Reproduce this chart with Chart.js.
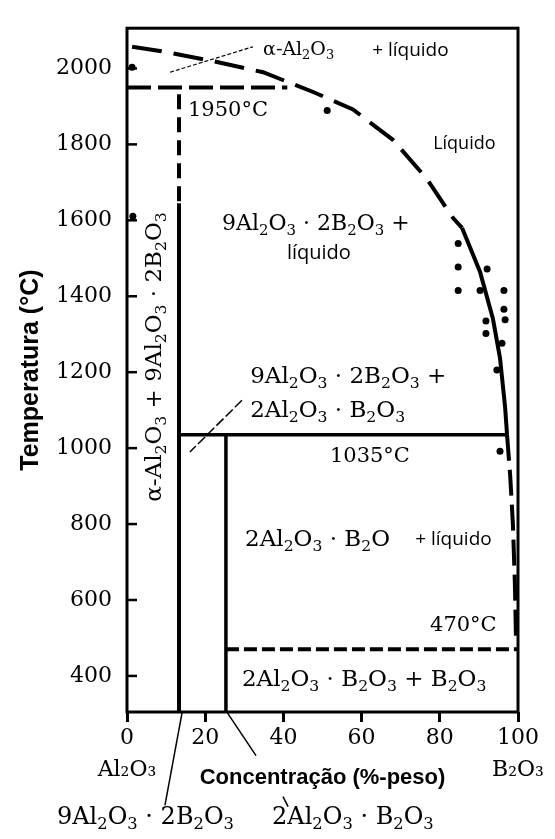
<!DOCTYPE html>
<html lang="pt">
<head>
  <meta charset="UTF-8" />
  <title>Diagrama de fases Al2O3 - B2O3</title>
  <script src="https://cdn.jsdelivr.net/npm/chart.js"></script>
  <style>
    html, body { margin: 0; padding: 0; background: #fff; }
    #caixa { width: 555px; height: 839px; }
  </style>
</head>
<body>
  <div id="caixa"><canvas id="diagrama"></canvas></div>

  <script>
    // eixos: concentração de B2O3 (%-peso) e temperatura (°C)
    const ticksX = [0, 20, 40, 60, 80, 100];
    const ticksY = [400, 600, 800, 1000, 1200, 1400, 1600, 1800, 2000];
    const rotulosExtremos = { 0: 'Al₂O₃', 100: 'B₂O₃' };

    // liquidus (parte tracejada de cima, parte cheia, parte tracejada de baixo)
    const liquidusSup = [[1.3, 2057], [8.4, 2046], [21.2, 2021], [34.8, 1990], [47.6, 1938],
                         [57.8, 1892], [68.0, 1812], [76.7, 1709], [83.4, 1606], [85.7, 1580]];
    const liquidusMeio = [[85.7, 1580], [90.3, 1464], [93.6, 1340], [95.4, 1237], [96.7, 1108], [97.2, 1035]];
    const liquidusInf = [[97.2, 1035], [98.0, 928], [98.7, 799], [99.2, 644], [99.5, 490]];

    // linhas do diagrama
    const isoterma1950 = [[0, 1950], [41, 1950]];
    const isoterma1035 = [[13.3, 1035], [97.2, 1035]];
    const isoterma470 = [[25.3, 470], [100, 470]];
    const composto9a2b = [[13.3, 1645], [13.3, 305]];
    const composto9a2bTrac = [[13.3, 1932], [13.3, 1650]];
    const composto2a1b = [[25.3, 1035], [25.3, 305]];
    const linhaFina = [[11.0, 1990], [32.2, 2057]];
    const indicador1035 = [[29.4, 1126], [16.1, 990]];
    const indicador9a2b = [[14.1, 304], [9.7, 59]];
    const indicador2a1b = [[25.6, 304], [33.0, 190]];
    const indicador2a1bPonta = [[39.9, 82], [41.2, 56]];

    // pontos experimentais
    const pontos = [[51.2, 1889], [84.7, 1539], [84.7, 1477], [84.7, 1415], [92.1, 1472],
                    [90.3, 1415], [96.4, 1415], [96.4, 1366], [96.7, 1338], [91.8, 1335],
                    [91.8, 1302], [95.9, 1276], [94.6, 1206], [95.4, 992], [1.5, 1611], [1.3, 2003]];

    const serif = '"DejaVu Serif", serif';
    const sans = '"Open Sans", sans-serif';

    // textos dentro e fora do gráfico (posição em coordenadas dos dados)
    const textos = [
      { t: 'α-Al₂O₃', x: 34.8, y: 2049, f: serif, s: 19 },
      { t: '+ líquido', x: 62.7, y: 2046, f: sans, s: 19 },
      { t: '1950°C', x: 15.6, y: 1889, f: serif, s: 21 },
      { t: 'Líquido', x: 78.3, y: 1802, f: sans, s: 18 },
      { t: '9Al₂O₃ · 2B₂O₃ +', x: 24.3, y: 1590, f: serif, s: 22 },
      { t: 'líquido', x: 40.9, y: 1513, f: sans, s: 20 },
      { t: 'α-Al₂O₃ + 9Al₂O₃ · 2B₂O₃', x: 7.2, y: 1240, f: serif, s: 23, rot: true },
      { t: '9Al₂O₃ · 2B₂O₃ +', x: 31.5, y: 1186, f: serif, s: 23 },
      { t: '2Al₂O₃ · B₂O₃', x: 31.5, y: 1098, f: serif, s: 23 },
      { t: '1035°C', x: 51.9, y: 979, f: serif, s: 21 },
      { t: '2Al₂O₃ · B₂O', x: 30.2, y: 758, f: serif, s: 23 },
      { t: '+ líquido', x: 73.7, y: 758, f: sans, s: 19 },
      { t: '470°C', x: 77.5, y: 533, f: serif, s: 21 },
      { t: '2Al₂O₃ · B₂O₃ + B₂O₃', x: 29.4, y: 389, f: serif, s: 23 },
      { t: '9Al₂O₃ · 2B₂O₃', x: -17.9, y: 26, f: serif, s: 24 },
      { t: '2Al₂O₃ · B₂O₃', x: 37.1, y: 26, f: serif, s: 24 }
    ];

    const pts = arr => arr.map(p => ({ x: p[0], y: p[1] }));
    const indices = '₀₁₂₃₄₅₆₇₈₉';

    // desenha texto com índices menores e abaixados
    function escreve(ctx, texto, tam, familia, centrado) {
      const partes = [...texto].map(c => {
        const i = indices.indexOf(c);
        return i >= 0 ? { c: String(i), sub: true } : { c: c, sub: false };
      });
      let largura = 0;
      partes.forEach(p => {
        ctx.font = (p.sub ? tam * 0.68 : tam) + 'px ' + familia;
        p.w = ctx.measureText(p.c).width;
        largura += p.w;
      });
      let x = centrado ? -largura / 2 : 0;
      partes.forEach(p => {
        ctx.font = (p.sub ? tam * 0.68 : tam) + 'px ' + familia;
        ctx.fillText(p.c, x, p.sub ? tam * 0.3 : 0);
        x += p.w;
      });
    }

    function linha(dados, largura, traco) {
      return {
        data: pts(dados),
        showLine: true,
        borderColor: '#000',
        borderWidth: largura,
        borderDash: traco || [],
        pointRadius: 0,
        clip: false
      };
    }

    const moldura = {
      id: 'moldura',
      afterDatasetsDraw(chart) {
        const { ctx, chartArea: a, scales } = chart;
        ctx.save();
        ctx.strokeStyle = '#000';
        ctx.lineWidth = 3;
        ctx.strokeRect(a.left, a.top, a.right - a.left, a.bottom - a.top);
        ctx.lineWidth = 2.5;
        ticksY.forEach(v => {
          const py = scales.y.getPixelForValue(v);
          ctx.beginPath();
          ctx.moveTo(a.left, py);
          ctx.lineTo(a.left + 10, py);
          ctx.stroke();
        });
        ctx.fillStyle = '#000';
        ctx.textBaseline = 'middle';
        ctx.textAlign = 'left';
        textos.forEach(r => {
          const px = scales.x.getPixelForValue(r.x);
          const py = scales.y.getPixelForValue(r.y);
          ctx.save();
          ctx.translate(px, py);
          if (r.rot) ctx.rotate(-Math.PI / 2);
          escreve(ctx, r.t, r.s, r.f, !!r.rot);
          ctx.restore();
        });
        ctx.restore();
      }
    };

    new Chart(document.getElementById('diagrama'), {
      type: 'scatter',
      data: {
        datasets: [
          linha(liquidusSup, 4, [30, 12]),
          linha(liquidusMeio, 4),
          linha(liquidusInf, 4, [26, 9]),
          linha(isoterma1950, 4, [24, 7]),
          linha(isoterma1035, 3.5),
          linha(isoterma470, 4, [13, 5]),
          linha(composto9a2b, 4),
          linha(composto9a2bTrac, 4, [15, 8]),
          linha(composto2a1b, 3.5),
          linha(linhaFina, 1.2, [4, 2]),
          linha(indicador1035, 1.5, [10, 3]),
          linha(indicador9a2b, 1.5),
          linha(indicador2a1b, 1.5),
          linha(indicador2a1bPonta, 1.5),
          {
            data: pts(pontos),
            showLine: false,
            pointRadius: 3.5,
            pointBackgroundColor: '#000',
            pointBorderWidth: 0,
            clip: false
          }
        ]
      },
      options: {
        responsive: true,
        maintainAspectRatio: false,
        animation: false,
        layout: { padding: { top: 13, right: 37, left: 0, bottom: 0 } },
        plugins: { legend: { display: false }, tooltip: { enabled: false } },
        scales: {
          x: {
            type: 'linear',
            min: 0,
            max: 100,
            afterBuildTicks: s => { s.ticks = ticksX.map(v => ({ value: v })); },
            afterFit: s => { s.height = 127; },
            border: { display: false },
            grid: { drawOnChartArea: false, drawTicks: true, tickLength: 10, tickWidth: 3, tickColor: '#000' },
            ticks: {
              color: '#000',
              padding: 0,
              maxRotation: 0,
              autoSkip: false,
              font: { family: serif, size: 22, lineHeight: 1.45 },
              callback: v => rotulosExtremos[v] ? [String(v), rotulosExtremos[v]] : String(v)
            },
            title: {
              display: true,
              text: 'Concentração (%-peso)',
              color: '#000',
              font: { family: '"Liberation Sans", Arial, sans-serif', size: 22, weight: 'bold' },
              padding: { top: 0, bottom: 48 }
            }
          },
          y: {
            min: 305,
            max: 2106,
            afterBuildTicks: s => { s.ticks = ticksY.map(v => ({ value: v })); },
            afterFit: s => { s.width = 127; },
            border: { display: false },
            grid: { display: false, drawTicks: false },
            ticks: {
              color: '#000',
              padding: 15,
              font: { family: serif, size: 22 },
              callback: v => String(v)
            },
            title: {
              display: true,
              text: 'Temperatura (°C)',
              color: '#000',
              font: { family: '"Liberation Sans", Arial, sans-serif', size: 25, weight: 'bold' },
              padding: { top: 16, bottom: 0 }
            }
          }
        }
      },
      plugins: [moldura]
    });
  </script>
</body>
</html>
